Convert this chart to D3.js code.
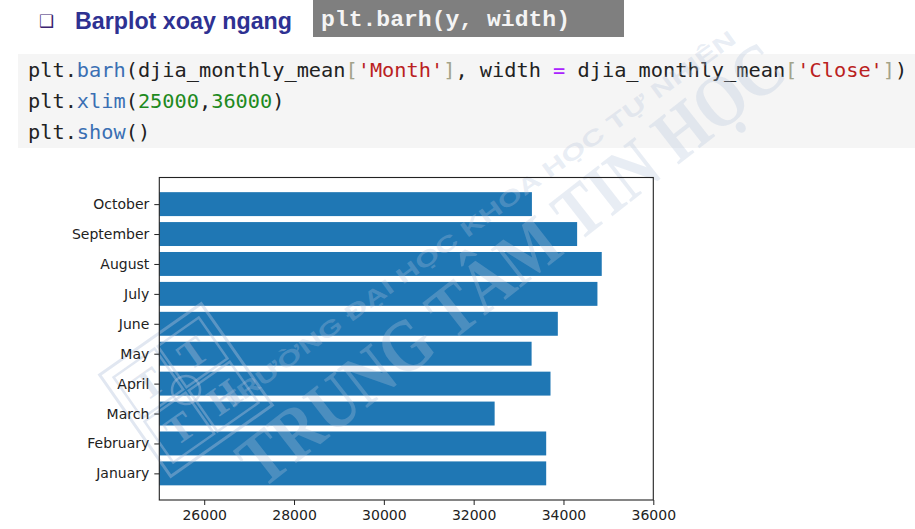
<!DOCTYPE html>
<html>
<head>
<meta charset="utf-8">
<script src="https://cdn.jsdelivr.net/npm/d3@7"></script>
<style>
  html, body { margin: 0; padding: 0; background: #fff; }
  svg { display: block; }
</style>
</head>
<body>
<svg id="chart" width="915" height="529"></svg>
<script>
// ---- data ----
const months = ["January", "February", "March", "April", "May", "June", "July", "August", "September", "October"];
const closeMeans = [33615, 33615, 32467, 33711, 33290, 33874, 34756, 34852, 34304, 33297];
const xTicks = [26000, 28000, 30000, 32000, 34000, 36000];
const xLimits = [25000, 36000];

const titleText = "Barplot xoay ngang";
const apiText = "plt.barh(y, width)";
// code lines as tokens [text, colour-class]
const codeLines = [
  [["plt.", "p"], ["barh", "f"], ["(djia_monthly_mean", "p"], ["[", "b"], ["'Month'", "s"], ["]", "b"], [", width ", "p"], ["=", "o"], [" djia_monthly_mean", "p"], ["[", "b"], ["'Close'", "s"], ["]", "b"], [")", "p"]],
  [["plt.", "p"], ["xlim", "f"], ["(", "p"], ["25000", "n"], [",", "p"], ["36000", "n"], [")", "p"]],
  [["plt.", "p"], ["show", "f"], ["()", "p"]]
];
const watermarkSmall = "TRƯỜNG ĐẠI HỌC KHOA HỌC TỰ NHIÊN";
const watermarkBig = "TRUNG TÂM TIN HỌC";
const logoLetters = ["T", "T", "T", "H"]; // cells: top-left, top-right, bottom-left, bottom-right

const tokenColors = { p: "#222", f: "#3a6fb3", s: "#ba2121", n: "#1e8a1e", o: "#aa22ff", b: "#a3a38a" };

const svg = d3.select("#chart");
svg.append("rect").attr("width", 915).attr("height", 529).attr("fill", "#fff");

// ---- header ----
svg.append("text").attr("x", 39).attr("y", 27)
  .attr("font-family", "DejaVu Sans").attr("font-size", 17).attr("fill", "#3b2370")
  .text("❑");
svg.append("text").attr("x", 75).attr("y", 29)
  .attr("font-family", "Liberation Sans, Arial, sans-serif").attr("font-weight", "bold")
  .attr("font-size", 23).attr("fill", "#2e3192")
  .attr("textLength", 217).attr("lengthAdjust", "spacingAndGlyphs")
  .text(titleText);
svg.append("rect").attr("x", 313).attr("y", 0).attr("width", 311).attr("height", 37).attr("fill", "#7f7f7f");
svg.append("text").attr("x", 321).attr("y", 26)
  .attr("font-family", "Liberation Mono, Courier New, monospace").attr("font-weight", "bold")
  .attr("font-size", 22).attr("fill", "#f4f4f4")
  .attr("textLength", 249).attr("lengthAdjust", "spacingAndGlyphs")
  .text(apiText);

// ---- code block ----
svg.append("rect").attr("x", 18).attr("y", 54).attr("width", 897).attr("height", 94).attr("fill", "#f5f5f5");
const codeY = [77, 108, 139];
codeLines.forEach((line, i) => {
  const t = svg.append("text").attr("x", 28).attr("y", codeY[i])
    .attr("font-family", "DejaVu Sans Mono, monospace").attr("font-size", 20.3)
    .style("white-space", "pre");
  line.forEach(([txt, c]) => t.append("tspan").attr("fill", tokenColors[c]).text(txt));
});

// ---- chart ----
const plotLeft = 159.3, plotRight = 653.3, plotTop = 177.5, plotBottom = 500;
const x = d3.scaleLinear().domain(xLimits).range([plotLeft, plotRight]);
const y = d3.scaleLinear().domain([-0.89, months.length - 1 + 0.89]).range([plotBottom, plotTop]);
const barH = Math.abs(y(0.4) - y(-0.4));

const gBars = svg.append("g");
gBars.selectAll("rect").data(months).join("rect")
  .attr("x", x(xLimits[0]))
  .attr("y", (d, i) => y(i + 0.4))
  .attr("width", (d, i) => x(closeMeans[i]) - x(xLimits[0]))
  .attr("height", barH)
  .attr("fill", "#1f77b4");

// watermark (very faint)
const wmColor = "#b4c3dc", wmOpacity = 0.3;
const wm = svg.append("g").attr("pointer-events", "none")
  .attr("fill", wmColor).attr("fill-opacity", wmOpacity);
wm.append("text")
  .attr("transform", "translate(228,412) rotate(-36)")
  .attr("font-family", "Liberation Sans, Arial, sans-serif").attr("font-weight", "bold")
  .attr("font-size", 22)
  .attr("textLength", 630).attr("lengthAdjust", "spacingAndGlyphs")
  .text(watermarkSmall);
wm.append("text")
  .attr("transform", "translate(262,490) rotate(-38) scale(1,1.2)")
  .attr("font-family", "Liberation Serif, Times New Roman, serif").attr("font-weight", "bold")
  .attr("font-size", 62)
  .attr("textLength", 670).attr("lengthAdjust", "spacingAndGlyphs")
  .text(watermarkBig);
// logo
const logo = svg.append("g").attr("pointer-events", "none")
  .attr("transform", "translate(186,390) rotate(-35)");
const cell = 54;
logo.append("rect").attr("x", -cell - 8).attr("y", -cell - 8).attr("width", 2 * cell + 16).attr("height", 2 * cell + 16)
  .attr("fill", "none").attr("stroke", wmColor).attr("stroke-opacity", wmOpacity + 0.1).attr("stroke-width", 3);
[[-1, -1], [0, -1], [-1, 0], [0, 0]].forEach(([cx, cy], k) => {
  logo.append("rect").attr("x", cx * cell + 2).attr("y", cy * cell + 2).attr("width", cell - 4).attr("height", cell - 4)
    .attr("fill", "none").attr("stroke", wmColor).attr("stroke-opacity", wmOpacity + 0.1).attr("stroke-width", 2.5);
  logo.append("text").attr("x", cx * cell + cell / 2).attr("y", cy * cell + cell / 2 + 14)
    .attr("text-anchor", "middle").attr("font-family", "Liberation Serif, serif").attr("font-weight", "bold")
    .attr("font-size", 40).attr("fill", wmColor).attr("fill-opacity", wmOpacity + 0.1)
    .text(logoLetters[k]);
});
logo.append("circle").attr("r", 14).attr("fill", "none").attr("stroke", wmColor)
  .attr("stroke-opacity", wmOpacity + 0.1).attr("stroke-width", 2.5);

// axes
const xAxis = d3.axisBottom(x).tickValues(xTicks).tickFormat(d3.format("d")).tickSize(5).tickPadding(5);
const yAxis = d3.axisLeft(y).tickValues(d3.range(months.length)).tickFormat(i => months[i]).tickSize(5).tickPadding(5);

const gx = svg.append("g").attr("transform", `translate(0,${plotBottom})`).call(xAxis);
const gy = svg.append("g").attr("transform", `translate(${plotLeft},0)`).call(yAxis);
[gx, gy].forEach(g => {
  g.select(".domain").remove();
  g.selectAll(".tick line").attr("stroke", "#222").attr("stroke-width", 1);
  g.selectAll(".tick text").attr("font-family", "DejaVu Sans, sans-serif").attr("font-size", 14).attr("fill", "#222");
});

svg.append("rect").attr("x", plotLeft).attr("y", plotTop).attr("width", plotRight - plotLeft).attr("height", plotBottom - plotTop)
  .attr("fill", "none").attr("stroke", "#222").attr("stroke-width", 1.1);
</script>
</body>
</html>
